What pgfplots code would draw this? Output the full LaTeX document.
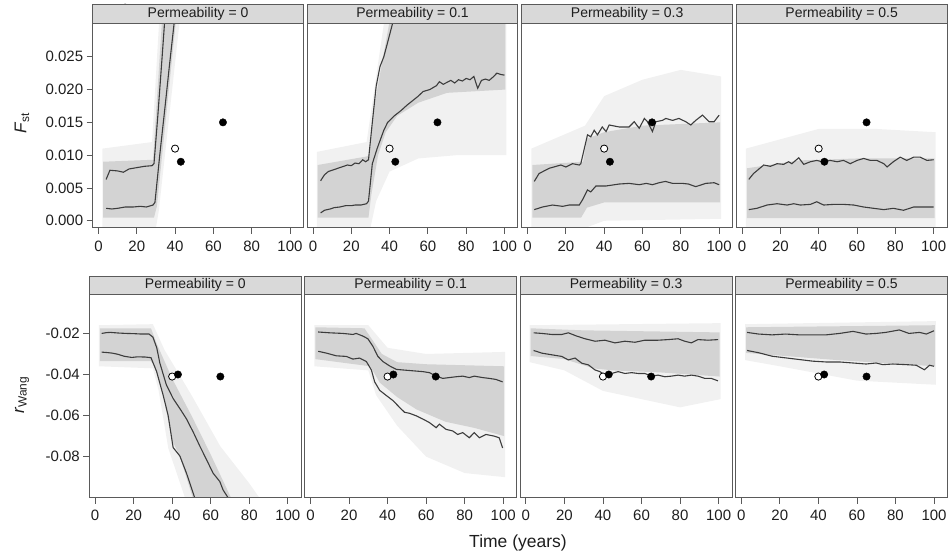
\documentclass[border=0pt]{standalone}
\usepackage{fontspec}
\setmainfont{Liberation Sans}
\usepackage{pgfplots}
\pgfplotsset{compat=1.18}
\definecolor{framec}{RGB}{90,90,90}
\definecolor{stripc}{RGB}{217,217,217}
\definecolor{linec}{RGB}{60,60,60}
\definecolor{corec}{RGB}{211,211,211}
\definecolor{outerc}{RGB}{241,241,241}
\definecolor{tickc}{RGB}{30,30,30}
\pgfplotsset{
  panel/.style={scale only axis, xmin=-3, xmax=107,
    axis line style={draw=framec, line width=1pt},
    tick style={draw=framec, line width=0.8pt},
    tick align=outside, major tick length=6pt,
    xtick pos=lower, ytick pos=left,
    xtick={0,20,40,60,80,100}, xticklabels={0,20,40,60,80,100},
    ytick=\empty,
    every tick label/.append style={font=\fontsize{15}{17}\selectfont, text=tickc},
    xticklabel style={yshift=-3pt},
    axis on top, anchor=south west,
  },
  toprow/.style={width=210.7pt, height=204.7pt, ymin=-0.0011, ymax=0.0301},
  botrow/.style={width=212pt, height=203.7pt, ymin=-0.1, ymax=-0.0008},
  cloudout/.style={fill=outerc, draw=none},
  cloudin/.style={fill=corec, draw=none},
  qline/.style={draw=linec, line width=1.1pt, no markers},
  opendot/.style={only marks, mark=*, mark size=3.6pt, mark options={fill=white, draw=black, line width=0.8pt}},
  fulldot/.style={only marks, mark=*, mark size=3.7pt, mark options={fill=black, draw=black}},
}
\newcommand{\strip}[3]{% name, height, label
  \draw[fill=stripc, draw=framec, line width=1pt] (#1.north west) rectangle ([yshift=#2pt]#1.north east);
  \node[font=\fontsize{14}{16}\selectfont, text=tickc, inner sep=0pt] at ([yshift=#2pt/2]#1.north) {#3};}
\begin{document}
\begin{tikzpicture}[x=1pt,y=1pt]
\path[use as bounding box] (0,0) rectangle (951,555);

% ================= TOP ROW (F_st) =================
\begin{axis}[panel, toprow, name=t1, at={(92.7pt,327pt)},
  ytick={0,0.005,0.01,0.015,0.02,0.025},
  yticklabels={0.000,0.005,0.010,0.015,0.020,0.025}]
\addplot[cloudout] coordinates {(2,-0.0011) (30,-0.0011) (31.5,0.0015) (43,0.032) (32,0.032) (28,0.0120) (2,0.0110)} --cycle;
\addplot[cloudin] coordinates {(2.5,0.0005) (29,0.0005) (30.5,0.0022) (41,0.032) (33.5,0.032) (28.5,0.0093) (2.5,0.0090)} --cycle;
\addplot[qline] coordinates {(4,0.0063) (6,0.0077) (10,0.0076) (13,0.0074) (16,0.0079) (20,0.0081) (24,0.0083) (28,0.0084) (29,0.0087) (31,0.0160) (33,0.0240) (34.5,0.0301) (36,0.0360)};
\addplot[qline] coordinates {(4,0.0019) (7,0.0018) (10,0.0019) (14,0.0021) (18,0.0021) (22,0.0022) (25,0.0021) (28.5,0.0024) (29.5,0.0028) (32,0.0100) (35,0.0180) (37,0.0235) (39.5,0.0301) (41,0.0340)};
\addplot[opendot] coordinates {(40,0.011)};
\addplot[fulldot] coordinates {(43,0.009) (65,0.015)};
\end{axis}

\begin{axis}[panel, toprow, name=t2, at={(307.2pt,327pt)}]
\addplot[cloudout] coordinates {(2,-0.0011) (30,-0.0011) (33,0.0030) (40,0.0075) (55,0.0095) (75,0.0100) (101,0.0100) (101,0.032) (38,0.032) (31,0.0180) (28,0.0120) (2,0.0105)} --cycle;
\addplot[cloudin] coordinates {(2.5,0.0005) (29,0.0005) (30.5,0.0040) (34,0.0100) (38,0.0135) (44,0.0160) (55,0.0180) (70,0.0195) (100.5,0.0200) (100.5,0.032) (41,0.032) (32,0.0175) (29.5,0.0100) (28,0.0098) (2.5,0.0085)} --cycle;
\addplot[qline] coordinates {(4,0.0061) (6,0.0070) (8,0.0075) (11,0.0078) (13,0.0080) (16,0.0083) (18,0.0085) (20,0.0084) (22,0.0088) (24,0.0087) (26,0.0093) (27.5,0.0090) (29,0.0093) (31,0.0150) (33,0.0205) (35,0.0235) (37,0.0250) (39,0.0272) (41.5,0.0300) (43,0.0320)};
\addplot[qline] coordinates {(4,0.0012) (6,0.0016) (9,0.0018) (11,0.0020) (14,0.0021) (17,0.0023) (20,0.0023) (22,0.0024) (25,0.0024) (28,0.0026) (29,0.0030) (31,0.0087) (33.5,0.0110) (37,0.0138) (39,0.0150) (42.5,0.0160) (46,0.0168) (49,0.0176) (52,0.0183) (55,0.0190) (57.5,0.0197) (61,0.0200) (64.5,0.0206) (66,0.0212) (68,0.0208) (70,0.0211) (72,0.0214) (74,0.0210) (76,0.0215) (78,0.0213) (80,0.0217) (82,0.0215) (84,0.0220) (86,0.0202) (88,0.0214) (90,0.0216) (92,0.0214) (94,0.0219) (96,0.0225) (98,0.0223) (100,0.0222)};
\addplot[opendot] coordinates {(40,0.011)};
\addplot[fulldot] coordinates {(43,0.009) (65,0.015)};
\end{axis}

\begin{axis}[panel, toprow, name=t3, at={(521.8pt,327pt)}]
\addplot[cloudout] coordinates {(2,-0.0011) (30,-0.0011) (40,0.0000) (101,0.0003) (101,0.0220) (80,0.0230) (60,0.0215) (40,0.0190) (30,0.0145) (2,0.0110)} --cycle;
\addplot[cloudin] coordinates {(2.5,0.0005) (28,0.0005) (31,0.0020) (40,0.0028) (100.5,0.0028) (100.5,0.0150) (60,0.0145) (40,0.0135) (31,0.0125) (29,0.0090) (2.5,0.0085)} --cycle;
\addplot[qline] coordinates {(3.5,0.0060) (6,0.0072) (11.3,0.0080) (17.4,0.0085) (20,0.0082) (23.5,0.0087) (27,0.0085) (27.8,0.0087) (31.3,0.0131) (33,0.0128) (34.8,0.0138) (36.5,0.0131) (39,0.0143) (41,0.0136) (42.6,0.0146) (47.8,0.0143) (53,0.0143) (55.7,0.0151) (58.3,0.0141) (61,0.0156) (62.6,0.0151) (65.2,0.0136) (67,0.0151) (70.4,0.0153) (72.2,0.0156) (75.7,0.0153) (79,0.0156) (82.6,0.0151) (85.2,0.0146) (87.8,0.0153) (91.3,0.0161) (94.8,0.0151) (97.4,0.0151) (100,0.0161)};
\addplot[qline] coordinates {(3.5,0.0017) (7.8,0.0021) (13,0.0024) (18.3,0.0022) (21.7,0.0024) (27,0.0024) (28.7,0.0032) (31.3,0.0047) (33,0.0044) (35.7,0.0053) (40.9,0.0053) (47.8,0.0056) (53,0.0057) (58.3,0.0055) (62,0.0057) (65.2,0.0055) (68.7,0.0058) (72,0.0060) (75.7,0.0057) (80.9,0.0057) (84,0.0056) (87.8,0.0052) (93,0.0057) (97.4,0.0058) (100,0.0055)};
\addplot[opendot] coordinates {(40,0.011)};
\addplot[fulldot] coordinates {(43,0.009) (65,0.015)};
\end{axis}

\begin{axis}[panel, toprow, name=t4, at={(736.3pt,327pt)}]
\addplot[cloudout] coordinates {(2,-0.0011) (101,-0.0011) (101,0.0135) (70,0.0140) (40,0.0140) (2,0.0110)} --cycle;
\addplot[cloudin] coordinates {(2.5,0.0004) (100.5,0.0004) (100.5,0.0095) (60,0.0095) (30,0.0092) (2.5,0.0080)} --cycle;
\addplot[qline] coordinates {(3.5,0.0063) (6,0.0072) (11.3,0.0085) (14.8,0.0083) (18.3,0.0087) (21.7,0.0086) (24.3,0.0090) (26,0.0087) (29.6,0.0096) (32.2,0.0086) (35.7,0.0090) (39,0.0092) (41.7,0.0090) (46,0.0092) (49.6,0.0090) (53,0.0092) (56.5,0.0087) (60,0.0092) (63.5,0.0095) (67,0.0092) (70.4,0.0092) (74,0.0087) (75.7,0.0082) (79,0.0090) (82.6,0.0097) (86,0.0092) (89.6,0.0097) (93,0.0097) (96.5,0.0092) (100,0.0093)};
\addplot[qline] coordinates {(3.5,0.0017) (7.8,0.0019) (13,0.0024) (18.3,0.0026) (23.5,0.0024) (27,0.0026) (30.4,0.0024) (35.7,0.0025) (39,0.0029) (42.6,0.0024) (47.8,0.0025) (53,0.0025) (58.3,0.0024) (63.5,0.0021) (68.7,0.0019) (74,0.0017) (79,0.0019) (84.3,0.0016) (89.6,0.0021) (94.8,0.0021) (100,0.0021)};
\addplot[opendot] coordinates {(40,0.011)};
\addplot[fulldot] coordinates {(43,0.009) (65,0.015)};
\end{axis}

% ================= BOTTOM ROW (r_Wang) =================
\begin{axis}[panel, botrow, name=b1, at={(89.3pt,57.3pt)},
  ytick={-0.08,-0.06,-0.04,-0.02},
  yticklabels={-0.08,-0.06,-0.04,-0.02}]
\addplot[cloudout] coordinates {(2,-0.0160) (30,-0.0155) (36,-0.0280) (50,-0.0500) (65,-0.0750) (80,-0.0930) (86,-0.1010) (47,-0.1010) (38,-0.0760) (33,-0.0480) (30,-0.0370) (2,-0.0360)} --cycle;
\addplot[cloudin] coordinates {(2.5,-0.0175) (29,-0.0175) (32,-0.0250) (40,-0.0420) (50,-0.0600) (60,-0.0790) (71,-0.1010) (51,-0.1010) (44,-0.0800) (40,-0.0720) (35,-0.0480) (31,-0.0360) (29,-0.0335) (2.5,-0.0335)} --cycle;
\addplot[qline] coordinates {(3.4,-0.0200) (6,-0.0196) (8,-0.0195) (12,-0.0198) (16,-0.0200) (20,-0.0201) (24,-0.0203) (28,-0.0203) (30,-0.0218) (32,-0.0270) (33.6,-0.0344) (37,-0.0451) (40.5,-0.0517) (44,-0.0566) (47.4,-0.0616) (51,-0.0682) (54.3,-0.0748) (57.8,-0.0814) (61.2,-0.0880) (64.7,-0.0921) (66.4,-0.0962) (69,-0.1000) (71,-0.1040)};
\addplot[qline] coordinates {(3.4,-0.0291) (6,-0.0293) (9,-0.0296) (12,-0.0302) (15,-0.0311) (19,-0.0317) (22,-0.0314) (26,-0.0315) (29,-0.0318) (31.9,-0.0385) (35.3,-0.0500) (37.9,-0.0599) (40.5,-0.0756) (44,-0.0797) (47.4,-0.0880) (51.7,-0.1000) (53,-0.1040)};
\addplot[opendot] coordinates {(40,-0.041)};
\addplot[fulldot] coordinates {(43,-0.040) (65,-0.041)};
\end{axis}

\begin{axis}[panel, botrow, name=b2, at={(304.7pt,57.3pt)}]
\addplot[cloudout] coordinates {(2,-0.0160) (30,-0.0160) (40,-0.0270) (60,-0.0300) (101,-0.0290) (101,-0.0900) (80,-0.0880) (60,-0.0800) (45,-0.0650) (34,-0.0500) (30,-0.0380) (2,-0.0360)} --cycle;
\addplot[cloudin] coordinates {(2.5,-0.0170) (28,-0.0175) (32,-0.0230) (37,-0.0300) (45,-0.0340) (60,-0.0350) (100.5,-0.0360) (100.5,-0.0700) (85,-0.0660) (70,-0.0630) (55,-0.0570) (45,-0.0510) (36,-0.0440) (31,-0.0360) (2.5,-0.0325)} --cycle;
\addplot[qline] coordinates {(4,-0.0193) (10,-0.0197) (16.9,-0.0200) (22,-0.0205) (23.7,-0.0200) (27.2,-0.0213) (29.8,-0.0226) (32.4,-0.0263) (35,-0.0312) (37.6,-0.0337) (41,-0.0358) (44.5,-0.0375) (48,-0.0378) (53.1,-0.0382) (58.3,-0.0386) (61.7,-0.0391) (65.2,-0.0408) (68.6,-0.0419) (72,-0.0415) (75.5,-0.0411) (79,-0.0408) (82.4,-0.0415) (85,-0.0408) (89.3,-0.0415) (92.8,-0.0419) (96.2,-0.0424) (99.7,-0.0436)};
\addplot[qline] coordinates {(4,-0.0287) (8.3,-0.0296) (13.4,-0.0309) (18.6,-0.0312) (22,-0.0325) (25.5,-0.0320) (29,-0.0337) (31.6,-0.0378) (33.3,-0.0436) (35.9,-0.0477) (39.3,-0.0502) (42.8,-0.0527) (46.2,-0.0560) (48.8,-0.0584) (51.4,-0.0589) (54.8,-0.0601) (58.3,-0.0617) (61.7,-0.0634) (65.2,-0.0659) (66.9,-0.0642) (70.3,-0.0667) (73.8,-0.0675) (76.4,-0.0692) (79,-0.0683) (82.4,-0.0708) (85,-0.0683) (87.6,-0.0708) (91,-0.0692) (95.3,-0.0700) (97.9,-0.0708) (99.7,-0.0758)};
\addplot[opendot] coordinates {(40,-0.041)};
\addplot[fulldot] coordinates {(43,-0.040) (65,-0.041)};
\end{axis}

\begin{axis}[panel, botrow, name=b3, at={(520.1pt,57.3pt)}]
\addplot[cloudout] coordinates {(2,-0.0160) (101,-0.0150) (101,-0.0520) (80,-0.0560) (60,-0.0520) (40,-0.0480) (20,-0.0380) (2,-0.0340)} --cycle;
\addplot[cloudin] coordinates {(2.5,-0.0175) (30,-0.0185) (100.5,-0.0195) (100.5,-0.0410) (70,-0.0390) (45,-0.0380) (35,-0.0370) (20,-0.0325) (2.5,-0.0310)} --cycle;
\addplot[qline] coordinates {(4,-0.0197) (8.3,-0.0200) (13.4,-0.0205) (18.6,-0.0205) (22,-0.0197) (26.4,-0.0213) (30.7,-0.0226) (35.9,-0.0238) (41,-0.0233) (46.2,-0.0246) (51.4,-0.0238) (56.6,-0.0243) (61.7,-0.0233) (68.6,-0.0233) (73.8,-0.0230) (79,-0.0226) (82.4,-0.0238) (85.9,-0.0246) (89.3,-0.0230) (94.5,-0.0233) (99.7,-0.0230)};
\addplot[qline] coordinates {(4,-0.0283) (8.3,-0.0296) (13.4,-0.0304) (18.6,-0.0312) (22,-0.0329) (25.5,-0.0320) (29,-0.0345) (32.4,-0.0353) (35.9,-0.0378) (38.4,-0.0386) (41,-0.0403) (44.5,-0.0395) (47.9,-0.0386) (51.4,-0.0395) (54.8,-0.0391) (58.3,-0.0395) (61.7,-0.0395) (65.2,-0.0408) (68.6,-0.0403) (72.1,-0.0411) (75.5,-0.0408) (79,-0.0403) (82.4,-0.0408) (85.9,-0.0403) (89.3,-0.0408) (92.8,-0.0419) (96.2,-0.0419) (99.7,-0.0431)};
\addplot[opendot] coordinates {(40,-0.041)};
\addplot[fulldot] coordinates {(43,-0.040) (65,-0.041)};
\end{axis}

\begin{axis}[panel, botrow, name=b4, at={(735.5pt,57.3pt)}]
\addplot[cloudout] coordinates {(2,-0.0155) (101,-0.0140) (101,-0.0450) (60,-0.0430) (20,-0.0360) (2,-0.0330)} --cycle;
\addplot[cloudin] coordinates {(2.5,-0.0170) (100.5,-0.0160) (100.5,-0.0360) (50,-0.0330) (2.5,-0.0295)} --cycle;
\addplot[qline] coordinates {(3,-0.0195) (9,-0.0203) (16,-0.0207) (23,-0.0203) (30,-0.0207) (37,-0.0207) (44,-0.0207) (51,-0.0200) (58,-0.0190) (64.7,-0.0203) (70,-0.0200) (75,-0.0195) (82,-0.0183) (87,-0.0200) (92.5,-0.0195) (96,-0.0203) (100,-0.0187)};
\addplot[qline] coordinates {(3,-0.0283) (9,-0.0294) (16,-0.0311) (23,-0.0319) (30,-0.0327) (37,-0.0335) (44,-0.0339) (51,-0.0339) (58,-0.0344) (64.7,-0.0349) (70,-0.0344) (73.4,-0.0352) (78.6,-0.0349) (85.6,-0.0352) (90.8,-0.0355) (95,-0.0377) (97.7,-0.0355) (100,-0.0360)};
\addplot[opendot] coordinates {(40,-0.041)};
\addplot[fulldot] coordinates {(43,-0.040) (65,-0.041)};
\end{axis}

% strips
\strip{t1}{18.3}{Permeability = 0}
\strip{t2}{18.3}{Permeability = 0.1}
\strip{t3}{18.3}{Permeability = 0.3}
\strip{t4}{18.3}{Permeability = 0.5}
\strip{b1}{18}{Permeability = 0}
\strip{b2}{18}{Permeability = 0.1}
\strip{b3}{18}{Permeability = 0.3}
\strip{b4}{18}{Permeability = 0.5}

% axis titles
\node[rotate=90, font=\fontsize{17}{19}\selectfont, text=tickc] at (22,432) {\textit{F}\textsubscript{st}};
\node[rotate=90, font=\fontsize{17}{19}\selectfont, text=tickc] at (22,160) {\textit{r}\textsubscript{Wang}};
\node[font=\fontsize{17.5}{19}\selectfont, text=tickc] at (518,12) {Time (years)};
\end{tikzpicture}
\end{document}
